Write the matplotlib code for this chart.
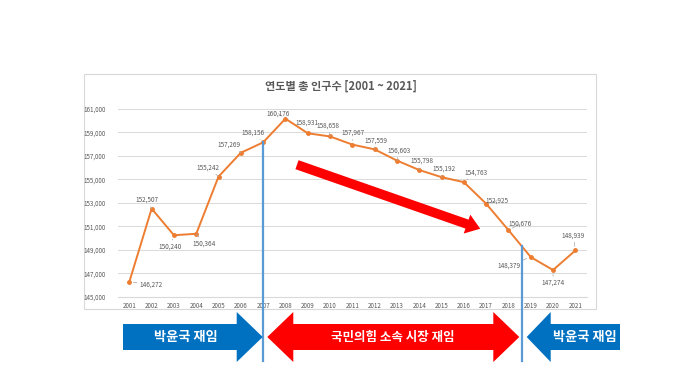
import matplotlib
matplotlib.use("Agg")
import matplotlib.pyplot as plt
from matplotlib.patches import Polygon, Rectangle, FancyArrow

plt.rcParams['font.family'] = ['Noto Sans CJK KR', 'DejaVu Sans']

# data
years = list(range(2001, 2022))
population = [146272, 152507, 150240, 150364, 155242, 157269, 158156,
              160176, 158931, 158658, 157967, 157559, 156603, 155798,
              155192, 154763, 152925, 150676, 148379, 147274, 148939]
y_ticks = list(range(145000, 161001, 2000))
title = "연도별 총 인구수 [2001 ~ 2021]"
term_labels = ["박윤국 재임", "국민의힘 소속 시장 재임", "박윤국 재임"]

# label offsets in pixels (dx, dy), dy up positive
label_offsets = [(22, -3), (-5, 8.5), (-4, -11.5), (8, -10), (-11, 9),
                 (-11.5, 8), (-10, 10), (-7, 5), (-1, 11), (-2, 10.5),
                 (1, 12), (1.5, 9), (2.5, 10), (2.5, 9), (2, 8.5),
                 (12, 10), (11, 3), (11.5, 6), (-22, -8.5), (0, -13),
                 (-2, 15)]

W, H = 680, 382
fig = plt.figure(figsize=(6.8, 3.82), dpi=100)
fig.patch.set_facecolor("white")

# chart border
ov = fig.add_axes([0, 0, 1, 1], zorder=0)
ov.set_xlim(0, W)
ov.set_ylim(H, 0)
ov.axis("off")
ov.add_patch(Rectangle((83.5, 73.5), 512.5, 235.5, fill=False,
                       edgecolor="#D9D9D9", lw=0.8))

left, right, top, bottom = 118.2, 586.5, 109.0, 296.7
ax = fig.add_axes([left / W, 1 - bottom / H, (right - left) / W,
                   (bottom - top) / H], zorder=1)
ax.set_facecolor("none")
ax.set_xlim(2000.5, 2021.5)
ax.set_ylim(145000, 161000)
ax.set_yticks(y_ticks)
ax.set_yticklabels([f"{v:,}" for v in y_ticks])
ax.set_xticks(years)
ax.set_xticklabels([str(y) for y in years])
ax.tick_params(length=0, labelsize=4.5, labelcolor="#595959")
ax.tick_params(axis="y", pad=9)
ax.tick_params(axis="x", pad=4)
for s in ["left", "right", "top"]:
    ax.spines[s].set_visible(False)
ax.spines["bottom"].set_color("#D9D9D9")
ax.spines["bottom"].set_linewidth(0.8)
ax.grid(axis="y", color="#D9D9D9", lw=0.7)
ax.set_axisbelow(True)

ax.plot(years, population, color="#ED7D31", lw=1.4, marker="o",
        markersize=2.5, zorder=3)

for yr, val, (dx, dy) in zip(years, population, label_offsets):
    ax.annotate(f"{val:,}", xy=(yr, val), xytext=(dx * 0.72, dy * 0.72),
                textcoords="offset points", ha="center", va="center",
                fontsize=4.6, color="#595959", zorder=4,
                arrowprops=dict(arrowstyle="-", color="#A6A6A6", lw=0.5,
                                shrinkA=0, shrinkB=3))

fig.text(341 / W, 1 - 86 / H, title, ha="center", va="center",
         fontsize=8, fontweight="bold", color="#595959")

# term markers (vertical lines)
ax.plot([2007, 2007], [158156, 139500], color="#5B9BD5", lw=1.6,
        clip_on=False, zorder=5)
ax.plot([2018.6, 2018.6], [149300, 139500], color="#5B9BD5", lw=1.6,
        clip_on=False, zorder=5)

# overlay for arrows
top_ov = fig.add_axes([0, 0, 1, 1], zorder=6)
top_ov.set_xlim(0, W)
top_ov.set_ylim(H, 0)
top_ov.axis("off")

top_ov.add_patch(FancyArrow(297, 164.7, 182.5 - 12.5, 63.8 - 4.4, width=9.5,
                            head_width=20, head_length=14,
                            length_includes_head=False, color="#FF0000",
                            lw=0))

blue = "#0070C0"
red = "#FF0000"
cy, bh, hh = 337, 13, 25
top_ov.add_patch(Polygon([(123, cy - bh), (236.7, cy - bh), (236.7, cy - hh),
                          (262.7, cy), (236.7, cy + hh), (236.7, cy + bh),
                          (123, cy + bh)], color=blue, lw=0))
top_ov.add_patch(Polygon([(267.3, cy), (293.3, cy - hh), (293.3, cy - bh),
                          (493.3, cy - bh), (493.3, cy - hh), (519.3, cy),
                          (493.3, cy + hh), (493.3, cy + bh),
                          (293.3, cy + bh), (293.3, cy + hh)],
                         color=red, lw=0))
top_ov.add_patch(Polygon([(526.7, cy), (550.7, cy - hh), (550.7, cy - bh),
                          (620, cy - bh), (620, cy + bh), (550.7, cy + bh),
                          (550.7, cy + hh)], color=blue, lw=0))

top_ov.text(186, cy, term_labels[0], ha="center", va="center",
            fontsize=9.5, fontweight="bold", color="white")
top_ov.text(393, cy, term_labels[1], ha="center", va="center",
            fontsize=9, fontweight="bold", color="white")
top_ov.text(585, cy, term_labels[2], ha="center", va="center",
            fontsize=9.5, fontweight="bold", color="white")

fig.savefig("out.png", dpi=100)
